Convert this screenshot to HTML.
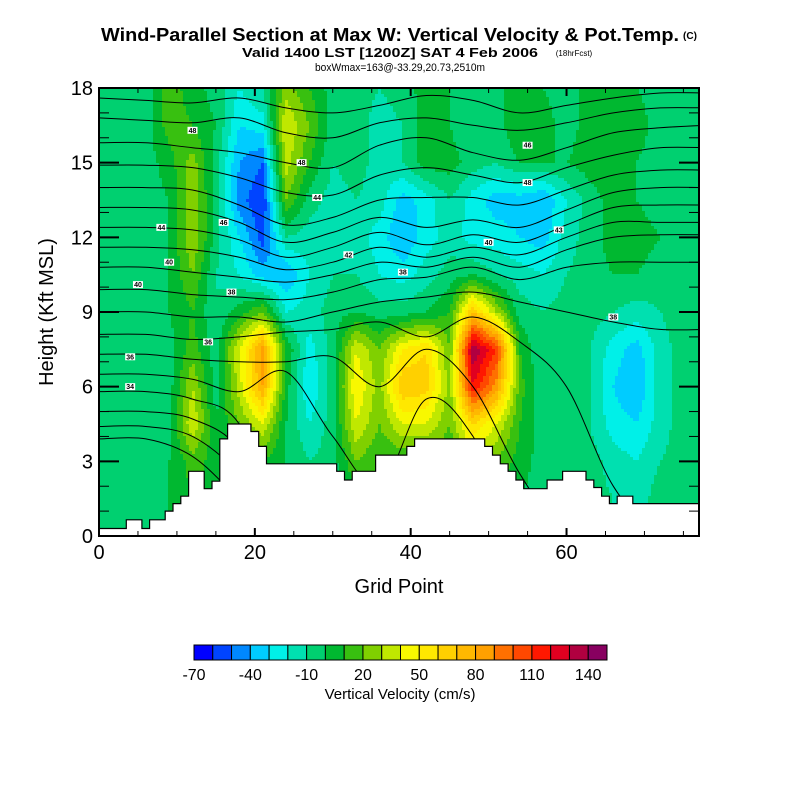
<!DOCTYPE html>
<html><head><meta charset="utf-8"><style>
body{margin:0;background:#fff;}
svg{display:block;font-family:"Liberation Sans",sans-serif;}
</style></head><body>
<svg id="chart" width="800" height="800" viewBox="0 0 800 800">
<text x="390" y="41" text-anchor="middle" font-size="18" font-weight="bold" textLength="578" lengthAdjust="spacingAndGlyphs">Wind-Parallel Section at Max W: Vertical Velocity &amp; Pot.Temp.</text>
<text x="690" y="39" text-anchor="middle" font-size="10" font-weight="bold">(C)</text>
<text x="390" y="57" text-anchor="middle" font-size="13" font-weight="bold" textLength="296" lengthAdjust="spacingAndGlyphs">Valid 1400 LST [1200Z] SAT 4 Feb 2006</text>
<text x="574" y="56" text-anchor="middle" font-size="8">(18hrFcst)</text>
<text x="400" y="71" text-anchor="middle" font-size="11" textLength="170" lengthAdjust="spacingAndGlyphs">boxWmax=163@-33.29,20.73,2510m</text>
<defs><clipPath id="pc"><rect x="99" y="88" width="600" height="448"/></clipPath></defs>
<g id="field" clip-path="url(#pc)"></g>
<g id="contours" clip-path="url(#pc)"></g>
<g id="terrain" clip-path="url(#pc)"></g>
<g id="axes"></g>
<rect x="99" y="88" width="600" height="448" fill="none" stroke="#000" stroke-width="2"/>
<text x="399" y="593" text-anchor="middle" font-size="20">Grid Point</text>
<text transform="translate(53,312) rotate(-90)" text-anchor="middle" font-size="20">Height (Kft MSL)</text>
<g id="cbar"></g>
<text x="400" y="699" text-anchor="middle" font-size="15">Vertical Velocity (cm/s)</text>
</svg>
<script>
const NS="http://www.w3.org/2000/svg";
const gridX=[0,3,6,9,12,15,18,21,24,27,30,33,36,39,42,45,48,51,54,57,60,63,66,69,72,75,78];
const gridH=[18,16.5,15,13.5,12,10.5,9,7.5,6,4.5,3,1.5,0];
const w18=[-5,-5,-5,15,5,-5,-20,-10,25,10,-5,-5,-10,-5,5,0,-5,-5,10,0,-5,5,5,0,-5,-5,-5];
const w165=[-5,-5,-5,15,10,0,-30,-25,40,20,-5,-5,-15,-10,5,0,-10,-5,10,5,-5,5,10,5,-5,-5,-5];
const w15=[-5,-5,-5,5,25,-5,-40,-50,35,10,-10,-5,-15,-10,5,5,-5,-10,0,0,0,5,5,0,-5,-5,-5];
const w135=[-5,-5,-5,0,30,-5,-45,-60,20,-5,-15,-10,-15,-35,-25,-10,-25,-35,-35,-40,-20,-5,5,0,-5,-5,-5];
const w12=[-5,-5,-5,0,30,-5,-30,-55,-10,-15,-15,-15,-25,-40,-25,-15,-25,-25,-30,-35,-15,-5,5,5,0,-5,-5];
const w105=[-5,-5,-5,0,20,-10,-20,-35,-40,-20,-10,-10,-20,-25,-15,-5,0,-10,-15,-20,-10,-5,0,0,-5,-5,-5];
const w9=[-5,-5,-5,0,10,-10,5,20,-20,-15,-5,0,-5,-5,0,10,70,30,-5,-10,-5,-5,-10,-15,-10,-5,-5];
const w75=[-5,-5,-5,-5,15,-5,40,85,10,-25,-5,40,20,50,60,20,140,110,10,-10,-5,-10,-25,-35,-15,-5,-5];
const w6=[-5,-5,-5,-5,30,-5,35,80,5,-30,-5,50,25,70,65,25,120,85,15,-10,-5,-10,-30,-40,-15,-5,-5];
const w45=[-5,-5,-5,-5,40,0,20,40,0,-20,-5,40,20,40,40,20,60,40,10,-5,-5,-10,-25,-30,-15,-5,-5];
const w3=[-5,-5,-5,0,15,5,10,10,0,-10,-5,20,10,10,10,10,30,20,5,-5,-5,-5,-15,-20,-10,-5,-5];
const w15b=[0,-5,-5,0,10,5,5,5,0,-5,-5,5,5,5,5,5,10,5,0,-5,-5,-5,-10,-15,-5,-5,-5];
const w0=[0,-5,-5,0,10,5,5,5,0,-5,-5,5,5,5,5,5,10,5,0,-5,-5,-5,-10,-15,-5,-5,-5];
const wRows=[w18,w165,w15,w135,w12,w105,w9,w75,w6,w45,w3,w15b,w0];
const levelColors=["#0000ff","#0044ff","#0088ff","#00ccff","#00f0e8","#00e0b0","#00d070","#00b830","#38c010","#80d000","#c0e800","#f8f800","#ffe800","#ffd000","#ffb800","#ffa000","#ff7000","#ff4800","#ff1800","#e00020","#b00040","#880060"];
const cbarLabels=["-70","-40","-10","20","50","80","110","140"];
const terrainH=[0.3,0.3,0.3,0.3,0.65,0.65,0.3,0.65,0.65,1.0,1.3,1.6,2.6,2.6,1.9,2.2,3.9,4.5,4.5,4.5,4.2,3.6,2.9,2.9,2.9,2.9,2.9,2.9,2.9,2.9,2.9,2.6,2.25,2.6,2.6,2.6,3.25,3.25,3.25,3.25,3.6,3.9,3.9,3.9,3.9,3.9,3.9,3.9,3.9,3.9,3.6,3.25,2.9,2.6,2.25,1.9,1.9,1.9,2.25,2.25,2.6,2.6,2.6,2.25,1.95,1.6,1.3,1.6,1.6,1.3,1.3,1.3,1.3,1.3,1.3,1.3,1.3,1.3];
const contourX=[0,6,12,18,24,30,36,42,48,54,60,66,72,78];
const th1=[17.6,17.5,17.4,17.6,17.2,17.0,17.3,17.7,17.5,17.0,17.3,17.6,17.8,17.8];
const th2=[16.8,16.7,16.6,16.8,16.2,16.0,16.6,16.8,16.5,16.3,16.6,17.0,17.2,17.2];
const th3=[15.8,15.8,15.6,15.4,15.0,14.8,15.7,16.0,15.4,15.1,15.6,16.2,16.4,16.5];
const th4=[14.9,14.9,14.8,14.4,13.8,13.7,14.5,14.8,14.5,14.2,14.8,15.3,15.6,15.6];
const th5=[14.0,14.0,13.9,13.3,12.5,12.8,13.5,13.6,13.6,13.3,13.9,14.5,14.7,14.7];
const th6=[13.2,13.2,13.1,12.6,11.8,12.2,12.8,12.4,12.7,12.4,13.1,13.8,14.0,14.0];
const th7=[12.4,12.4,12.3,11.9,11.2,11.6,12.2,11.7,12.1,11.8,12.5,13.2,13.3,13.3];
const th8=[11.6,11.6,11.5,11.2,10.7,11.0,11.6,11.2,11.6,11.3,12.0,12.6,12.6,12.6];
const th9=[10.8,10.8,10.6,10.4,10.2,10.5,11.0,10.8,11.2,10.8,11.5,12.0,12.1,12.1];
const th10=[9.9,9.9,9.7,9.6,9.5,9.8,10.3,10.4,10.8,10.3,10.8,11.0,11.0,11.0];
const th11=[9.0,9.0,8.8,8.8,8.6,9.0,9.4,9.6,9.8,9.4,9.0,8.6,8.3,8.3];
const th12=[8.1,8.1,7.9,8.0,8.2,8.3,8.6,8.0,8.8,7.8,6.0,2.0,0,0];
const th13=[7.3,7.3,7.1,7.0,7.0,7.2,6.0,7.5,6.0,2.5,0,0,0,0];
const th14=[6.5,6.5,6.3,5.8,6.6,4.0,2.0,5.5,4.0,0,0,0,0,0];
const th15=[5.8,5.8,5.5,4.5,0,0,0,0,0,0,0,0,0,0];
const th16=[5.0,5.0,4.7,3.5,0,0,0,0,0,0,0,0,0,0];
const th17=[4.4,4.4,4.0,2.5,0,0,0,0,0,0,0,0,0,0];
const th18=[3.9,3.9,3.2,1.5,0,0,0,0,0,0,0,0,0,0];
const thetaLines=[th1,th2,th3,th4,th5,th6,th7,th8,th9,th10,th11,th12,th13,th14,th15,th16,th17,th18];

const X0=99,X1=699,Y0=536,Y1=88,XMAX=77,HMAX=18;
const sx=g=>X0+(X1-X0)*g/XMAX;
const sy=h=>Y0-(Y0-Y1)*h/HMAX;
const gx=px=>(px-X0)*XMAX/(X1-X0);
const gh=py=>(Y0-py)*HMAX/(Y0-Y1);
function colorIdx(v){let i=Math.floor((v+70)/10);return Math.max(0,Math.min(levelColors.length-1,i));}
function sample(g,h){
  let xi=0;while(xi<gridX.length-2&&g>gridX[xi+1])xi++;
  let tx=(g-gridX[xi])/(gridX[xi+1]-gridX[xi]);tx=Math.max(0,Math.min(1,tx));
  let r=0;while(r<gridH.length-2&&h<gridH[r+1])r++;
  let ty=(gridH[r]-h)/(gridH[r]-gridH[r+1]);ty=Math.max(0,Math.min(1,ty));
  const a=wRows[r][xi],b=wRows[r][xi+1],c=wRows[r+1][xi],d=wRows[r+1][xi+1];
  return (a*(1-tx)+b*tx)*(1-ty)+(c*(1-tx)+d*tx)*ty;
}
const field=document.getElementById('field');
const C=3;
for(let py=Y1;py<Y0;py+=C){
  let runStart=X0,runC=null;
  for(let px=X0;px<=X1;px+=C){
    const ci=px<X1?colorIdx(sample(gx(px+C/2),gh(py+C/2))):-1;
    if(ci!==runC){
      if(runC!==null&&runC>=0){
        const r=document.createElementNS(NS,'rect');
        r.setAttribute('x',runStart);r.setAttribute('y',py);r.setAttribute('width',px-runStart+0.5);r.setAttribute('height',C+0.5);r.setAttribute('fill',levelColors[runC]);
        
        
        field.appendChild(r);
      }
      runStart=px;runC=ci;
    }
  }
}
const cg=document.getElementById('contours');
thetaLines.forEach((line,k)=>{
  const pts=contourX.map((g,i)=>[sx(g),sy(line[i])]);
  let d='M'+pts[0][0]+','+pts[0][1];
  for(let i=0;i<pts.length-1;i++){
    const p0=pts[Math.max(0,i-1)],p1=pts[i],p2=pts[i+1],p3=pts[Math.min(pts.length-1,i+2)];
    const c1=[p1[0]+(p2[0]-p0[0])/6,p1[1]+(p2[1]-p0[1])/6],c2=[p2[0]-(p3[0]-p1[0])/6,p2[1]-(p3[1]-p1[1])/6];
    d+=' C'+c1[0].toFixed(1)+','+c1[1].toFixed(1)+' '+c2[0].toFixed(1)+','+c2[1].toFixed(1)+' '+p2[0].toFixed(1)+','+p2[1].toFixed(1);
  }
  const p=document.createElementNS(NS,'path');
  p.setAttribute('d',d);p.setAttribute('fill','none');p.setAttribute('stroke','#000');p.setAttribute('stroke-width','1');
  
  
  cg.appendChild(p);
});
const labs=[[5,10.1,'40'],[4,7.2,'36'],[4,6.0,'34'],[8,12.4,'44'],[9,11,'40'],[16,12.6,'46'],[12,16.3,'48'],[28,13.6,'44'],[26,15.0,'48'],[32,11.3,'42'],[39,10.6,'38'],[50,11.8,'40'],[55,14.2,'48'],[59,12.3,'43'],[55,15.7,'46'],[66,8.8,'38'],[17,9.8,'38'],[14,7.8,'36']];
labs.forEach(l=>{
  const x=sx(l[0]),y=sy(l[1]);
  const r=document.createElementNS(NS,'rect');
  r.setAttribute('x',x-5);r.setAttribute('y',y-3.5);r.setAttribute('width',10);r.setAttribute('height',7);r.setAttribute('fill','#fff');
  
  
  cg.appendChild(r);
  const t=document.createElementNS(NS,'text');
  t.setAttribute('x',x);t.setAttribute('y',y+2.5);t.setAttribute('font-size','7');t.setAttribute('text-anchor','middle');t.setAttribute('font-weight','bold');
  t.textContent=l[2];
  
  
  cg.appendChild(t);
});
const tg=document.getElementById('terrain');
let td='M'+X0+','+(Y0+2);
terrainH.forEach((h,i)=>{const xa=sx(Math.max(0,i-0.5)),xb=sx(i+0.5);td+=' L'+xa.toFixed(1)+','+sy(h).toFixed(1)+' L'+xb.toFixed(1)+','+sy(h).toFixed(1);});
td+=' L'+(X1+2)+','+sy(terrainH[terrainH.length-1])+' L'+(X1+2)+','+(Y0+2)+' Z';
const tp=document.createElementNS(NS,'path');
tp.setAttribute('d',td);tp.setAttribute('fill','#fff');tp.setAttribute('stroke','#000');tp.setAttribute('stroke-width','1.2');


tg.appendChild(tp);
const ag=document.getElementById('axes');
function line(x1,y1,x2,y2,w,name){const l=document.createElementNS(NS,'line');l.setAttribute('x1',x1);l.setAttribute('y1',y1);l.setAttribute('x2',x2);l.setAttribute('y2',y2);l.setAttribute('stroke','#000');l.setAttribute('stroke-width',w);


ag.appendChild(l);}
function text(x,y,s,anchor,size,name){const t=document.createElementNS(NS,'text');t.setAttribute('x',x);t.setAttribute('y',y);t.setAttribute('text-anchor',anchor);t.setAttribute('font-size',size);t.textContent=s;


ag.appendChild(t);}
for(let g=0;g<=75;g+=5){const x=sx(g),maj=g%20===0;const L=maj?8:5;line(x,Y0,x,Y0-L,maj?2:1,'x-tick');line(x,Y1,x,Y1+L,maj?2:1,'x-tick');if(maj)text(x,559,String(g),'middle',20,'x-tick-label');}
for(let h=0;h<=18;h++){const y=sy(h),maj=h%3===0;const L=maj?20:10;line(X0,y,X0+L,y,maj?2:1,'y-tick');line(X1,y,X1-L,y,maj?2:1,'y-tick');if(maj)text(93,y+7,String(h),'end',20,'y-tick-label');}
const cb=document.getElementById('cbar');
const cbx0=194,cbx1=607,cby=645,cbh=15,bw=(cbx1-cbx0)/levelColors.length;
levelColors.forEach((c,i)=>{const r=document.createElementNS(NS,'rect');r.setAttribute('x',cbx0+i*bw);r.setAttribute('y',cby);r.setAttribute('width',bw);r.setAttribute('height',cbh);r.setAttribute('fill',c);r.setAttribute('stroke','#000');r.setAttribute('stroke-width','1');


cb.appendChild(r);});
cbarLabels.forEach((s,i)=>{const t=document.createElementNS(NS,'text');t.setAttribute('x',cbx0+i*3*bw);t.setAttribute('y',680);t.setAttribute('text-anchor','middle');t.setAttribute('font-size','16');t.textContent=s;


cb.appendChild(t);});
</script>
</body></html>
